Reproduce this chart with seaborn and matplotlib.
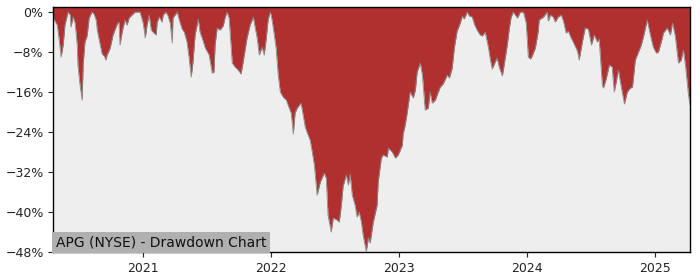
import matplotlib
matplotlib.use("Agg")
import matplotlib.pyplot as plt
import matplotlib.dates as mdates
from matplotlib.ticker import PercentFormatter
import seaborn as sns
import pandas as pd

dates = [
    "2020-04-21", "2020-05-02", "2020-05-07", "2020-05-13", "2020-05-19", "2020-05-24",
    "2020-05-30", "2020-06-02", "2020-06-08", "2020-06-10", "2020-06-16", "2020-06-22",
    "2020-06-28", "2020-06-30", "2020-07-06", "2020-07-12", "2020-07-15", "2020-07-20",
    "2020-07-26", "2020-08-01", "2020-08-09", "2020-08-15", "2020-08-21", "2020-08-24",
    "2020-09-01", "2020-09-07", "2020-09-13", "2020-09-18", "2020-09-21", "2020-09-30",
    "2020-10-08", "2020-10-20", "2020-10-25", "2020-10-28", "2020-11-03", "2020-11-11",
    "2020-11-17", "2020-11-23", "2020-12-01", "2020-12-10", "2020-12-24", "2021-01-02",
    "2021-01-08", "2021-01-13", "2021-01-19", "2021-01-25", "2021-01-30", "2021-02-08",
    "2021-02-11", "2021-02-17", "2021-02-25", "2021-02-28", "2021-03-08", "2021-03-14",
    "2021-03-20", "2021-03-26", "2021-03-28", "2021-04-09", "2021-04-15", "2021-04-23",
    "2021-04-29", "2021-05-07", "2021-05-13", "2021-05-19", "2021-05-24", "2021-05-30",
    "2021-06-08", "2021-06-13", "2021-06-22", "2021-06-28", "2021-07-03", "2021-07-09",
    "2021-07-18", "2021-07-23", "2021-07-26", "2021-08-01", "2021-08-09", "2021-08-18",
    "2021-08-24", "2021-08-29", "2021-09-04", "2021-09-13", "2021-09-21", "2021-09-30",
    "2021-10-08", "2021-10-14", "2021-10-25", "2021-11-03", "2021-11-12", "2021-11-17",
    "2021-11-23", "2021-11-29", "2021-12-07", "2021-12-13", "2021-12-19", "2021-12-24",
    "2021-12-30", "2022-01-02", "2022-01-08", "2022-01-16", "2022-01-22", "2022-01-28",
    "2022-02-05", "2022-02-14", "2022-02-19", "2022-02-28", "2022-03-06", "2022-03-11",
    "2022-03-17", "2022-03-28", "2022-04-03", "2022-04-09", "2022-04-15", "2022-04-23",
    "2022-04-29", "2022-05-05", "2022-05-13", "2022-05-22", "2022-06-02", "2022-06-08",
    "2022-06-13", "2022-06-22", "2022-06-28", "2022-07-09", "2022-07-15", "2022-07-21",
    "2022-07-26", "2022-08-04", "2022-08-10", "2022-08-15", "2022-08-21", "2022-08-29",
    "2022-09-04", "2022-09-10", "2022-09-16", "2022-09-21", "2022-09-30", "2022-10-06",
    "2022-10-11", "2022-10-20", "2022-10-31", "2022-11-03", "2022-11-12", "2022-11-17",
    "2022-11-29", "2022-12-02", "2022-12-13", "2022-12-22", "2022-12-30", "2023-01-11",
    "2023-01-13", "2023-01-19", "2023-01-25", "2023-02-02", "2023-02-11", "2023-02-17",
    "2023-02-22", "2023-03-03", "2023-03-09", "2023-03-17", "2023-03-26", "2023-03-31",
    "2023-04-06", "2023-04-15", "2023-04-20", "2023-04-29", "2023-05-07", "2023-05-19",
    "2023-05-25", "2023-06-02", "2023-06-08", "2023-06-16", "2023-06-25", "2023-07-01",
    "2023-07-06", "2023-07-15", "2023-07-21", "2023-07-29", "2023-08-04", "2023-08-12",
    "2023-08-21", "2023-08-27", "2023-09-04", "2023-09-13", "2023-09-19", "2023-09-24",
    "2023-09-30", "2023-10-08", "2023-10-14", "2023-10-23", "2023-10-28", "2023-11-06",
    "2023-11-12", "2023-11-17", "2023-11-23", "2023-12-05", "2023-12-13", "2023-12-22",
    "2023-12-30", "2024-01-05", "2024-01-11", "2024-01-16", "2024-01-25", "2024-02-02",
    "2024-02-05", "2024-02-17", "2024-02-28", "2024-03-02", "2024-03-08", "2024-03-16",
    "2024-03-22", "2024-03-30", "2024-04-08", "2024-04-14", "2024-04-22", "2024-04-28",
    "2024-05-06", "2024-05-12", "2024-05-24", "2024-05-29", "2024-06-07", "2024-06-15",
    "2024-06-24", "2024-07-03", "2024-07-11", "2024-07-20", "2024-07-25", "2024-08-03",
    "2024-08-06", "2024-08-14", "2024-08-23", "2024-08-31", "2024-09-06", "2024-09-18",
    "2024-09-23", "2024-10-05", "2024-10-13", "2024-10-22", "2024-10-28", "2024-11-05",
    "2024-11-14", "2024-11-22", "2024-11-28", "2024-12-09", "2024-12-18", "2024-12-26",
    "2025-01-04", "2025-01-10", "2025-01-21", "2025-01-24", "2025-02-04", "2025-02-13",
    "2025-02-19", "2025-02-27", "2025-03-08", "2025-03-16", "2025-03-22", "2025-03-28",
    "2025-04-05", "2025-04-10",
]

drawdown_pct = [
    -1.2, -2.6, -5.2, -9.0, -6.6, -2.6,
    -0.8, 0.0, -0.6, -3.0, -1.0, -2.2,
    -6.6, -10.6, -14.6, -17.6, -10.4, -6.0,
    -4.8, -1.2, 0.0, -0.4, -1.6, -3.6,
    -6.4, -8.4, -8.8, -9.6, -8.6, -7.2,
    -4.6, -2.4, -2.0, -6.6, -4.0, -1.6,
    -2.6, -1.2, -0.6, 0.0, 0.0, -2.2,
    -5.2, -2.6, -0.6, -3.6, -4.0, -4.6,
    -2.0, -1.0, -2.0, -0.6, 0.0, -0.8,
    -2.2, -6.2, -1.2, 0.0, -1.6, -3.4,
    -4.0, -6.0, -9.2, -13.0, -10.0, -4.6,
    -1.4, -4.0, -5.8, -7.2, -7.8, -8.6,
    -12.2, -12.0, -6.6, -3.2, -3.6, -2.8,
    -1.0, 0.0, -1.2, -10.2, -11.0, -11.6,
    -12.4, -10.0, -5.2, -2.6, -1.0, -3.0,
    -5.2, -8.6, -7.0, -8.6, -5.2, -1.6,
    0.0, -0.6, -3.2, -7.2, -12.6, -16.0,
    -17.0, -17.6, -18.6, -20.2, -24.4, -20.2,
    -19.2, -18.2, -20.6, -23.0, -24.2, -25.6,
    -28.0, -30.6, -36.6, -34.0, -32.2, -33.2,
    -40.6, -44.0, -41.2, -41.6, -42.0, -38.6,
    -34.8, -32.6, -34.6, -32.4, -36.6, -38.6,
    -41.0, -40.0, -42.0, -44.6, -47.9, -45.2,
    -46.2, -42.0, -38.6, -34.0, -29.2, -28.6,
    -29.0, -27.2, -28.0, -29.2, -28.6, -26.6,
    -24.4, -22.6, -20.0, -16.0, -17.2, -15.6,
    -12.0, -10.2, -12.6, -19.6, -19.2, -16.0,
    -18.2, -17.6, -16.6, -15.0, -14.4, -12.6,
    -13.2, -11.2, -7.2, -3.8, -2.2, -0.8,
    -1.4, 0.0, -0.8, -1.0, -2.4, -3.6,
    -4.6, -4.8, -4.0, -7.0, -9.6, -11.4,
    -10.4, -9.2, -11.0, -12.8, -10.6, -6.6,
    -3.2, -1.0, 0.0, -1.2, 0.0, 0.0,
    -2.2, -9.0, -9.4, -8.8, -7.2, -4.0,
    -1.6, -1.0, 0.0, -1.8, -0.6, -1.0,
    -2.0, -1.0, -0.6, -1.8, -4.2, -3.8,
    -5.2, -6.0, -7.8, -9.6, -6.0, -3.2,
    -3.4, -6.6, -4.6, -6.0, -5.4, -14.6,
    -15.2, -13.4, -10.6, -11.0, -16.0, -11.6,
    -13.8, -18.4, -16.0, -15.2, -15.0, -9.6,
    -8.0, -6.6, -5.0, -1.6, -4.6, -7.0,
    -8.2, -8.0, -5.2, -4.2, -3.2, -4.6,
    -2.2, -4.8, -10.2, -9.6, -7.6, -10.6,
    -16.2, -18.6,
]

df = pd.DataFrame({"date": pd.to_datetime(dates), "drawdown": drawdown_pct})

title_text = "APG (NYSE) - Drawdown Chart"
y_ticks = [0, -8, -16, -24, -32, -40, -48]

sns.set_theme(style="ticks")
plt.rcParams["font.family"] = ["DejaVu Sans"]

fig = plt.figure(figsize=(7, 2.8), dpi=100)
ax = fig.add_axes([0.0762, 0.1, 0.9095, 0.875])
ax.set_facecolor("#eeeeee")

y_top = 1
ax.fill_between(df["date"], df["drawdown"], y_top, color="#b03030", linewidth=0)
sns.lineplot(data=df, x="date", y="drawdown", ax=ax, color="#8a8a8a", linewidth=0.6)

ax.set_xlim(df["date"].iloc[0], df["date"].iloc[-1])
ax.set_ylim(-48, y_top)
ax.set_yticks(y_ticks)
ax.yaxis.set_major_formatter(PercentFormatter(decimals=0))
ax.xaxis.set_major_locator(mdates.YearLocator())
ax.xaxis.set_major_formatter(mdates.DateFormatter("%Y"))
ax.set_xlabel("")
ax.set_ylabel("")
ax.tick_params(axis="both", labelsize=9, colors="#222222", length=3.5, width=0.8)
for s in ax.spines.values():
    s.set_color("black")
    s.set_linewidth(1.0)

ax.text(0.004, 0.012, title_text, transform=ax.transAxes, fontsize=10,
        color="#111111", ha="left", va="bottom",
        bbox=dict(facecolor="#b0b0b0", edgecolor="none", pad=2.5))

fig.savefig("out.png", dpi=100)
